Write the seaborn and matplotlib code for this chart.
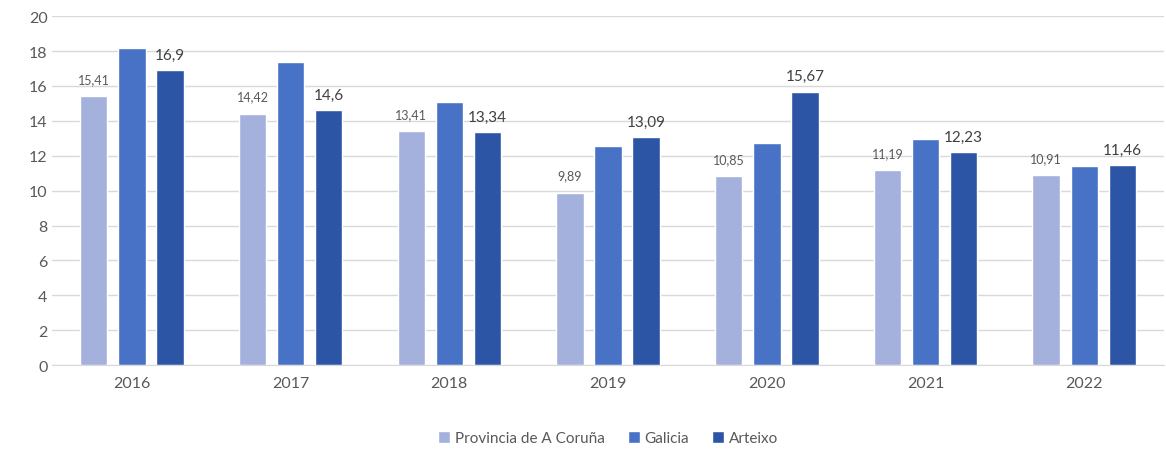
import pandas as pd
import seaborn as sns
import matplotlib.pyplot as plt

years = ['2016', '2017', '2018', '2019', '2020', '2021', '2022']
provincia = [15.41, 14.42, 13.41, 9.89, 10.85, 11.19, 10.91]
galicia = [18.2, 17.4, 15.07, 12.55, 12.75, 12.97, 11.4]
arteixo = [16.9, 14.6, 13.34, 13.09, 15.67, 12.23, 11.46]
series = ['Provincia de A Coruña', 'Galicia', 'Arteixo']
colors = ['#A3B1DC', '#4772C6', '#2D55A6']

data = pd.DataFrame({
    'year': years * 3,
    'value': provincia + galicia + arteixo,
    'serie': [s for s in series for _ in years],
})

sns.set_style('white')
plt.rcParams['font.family'] = ['Lato', 'DejaVu Sans']

fig = plt.figure(figsize=(11.66, 4.52), dpi=100)
ax = fig.add_axes([0.045, 0.19, 0.953, 0.772])
sns.barplot(data=data, x='year', y='value', hue='serie', palette=colors,
            saturation=1, width=0.72, gap=0.28, ax=ax, legend=True)

ax.set_ylim(0, 20)
ax.set_yticks(range(0, 21, 2))
ax.yaxis.grid(True, color='#d9d9d9', linewidth=1)
ax.set_axisbelow(True)
for s in ['top', 'right', 'left']:
    ax.spines[s].set_visible(False)
ax.spines['bottom'].set_color('#d9d9d9')
ax.tick_params(axis='both', colors='#595959', labelsize=11.5, length=0)
ax.tick_params(axis='x', pad=8)
ax.set_xlabel('')
ax.set_ylabel('')

fmt = lambda v: f'{v:g}'.replace('.', ',')
ax.bar_label(ax.containers[0], labels=[fmt(v) for v in provincia],
             padding=8, fontsize=9, color='#595959')
ax.bar_label(ax.containers[2], labels=[fmt(v) for v in arteixo],
             padding=6, fontsize=11, color='#404040')

ax.legend(loc='upper center', bbox_to_anchor=(0.5, -0.15), ncol=3, frameon=False,
          fontsize=11, labelcolor='#595959', handlelength=0.8, handleheight=0.8,
          handletextpad=0.3, columnspacing=1.5)

fig.savefig('out.png', dpi=100)
